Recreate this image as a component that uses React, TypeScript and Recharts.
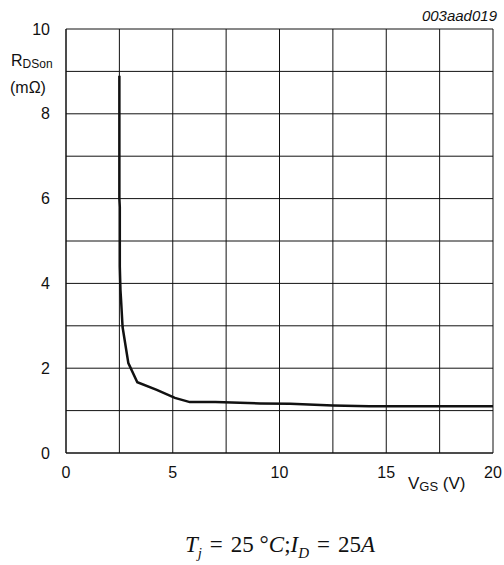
import { LineChart, Line, XAxis, YAxis, CartesianGrid } from 'recharts';

const vgs = [2.5, 2.5, 2.52, 2.52, 2.55, 2.58, 2.65, 2.92, 3.34, 4.25, 5.1, 5.8, 7, 9.1, 10.5, 12.5, 14.2, 17, 20];
const rdson = [8.9, 6.0, 5.8, 4.4, 3.85, 3.6, 2.97, 2.12, 1.67, 1.49, 1.3, 1.2, 1.2, 1.17, 1.16, 1.12, 1.1, 1.1, 1.1];

const xTicks = [0, 2.5, 5, 7.5, 10, 12.5, 15, 17.5, 20];
const yTicks = [0, 1, 2, 3, 4, 5, 6, 7, 8, 9, 10];

const data = vgs.map((v, i) => ({ vgs: v, rdson: rdson[i] }));

const font = 'Liberation Sans, Arial, sans-serif';
const sp = { margin: '0 8px' };

export default function App() {
  return (
    <div style={{ position: 'absolute', left: 0, top: 0, width: 504, height: 565, background: '#fff' }}>
      <LineChart width={504} height={565} data={data} margin={{ top: 29, right: 11, left: 0, bottom: 82 }}>
        <CartesianGrid stroke="#111" strokeWidth={1} />
        <XAxis
          dataKey="vgs"
          type="number"
          domain={[0, 20]}
          ticks={xTicks}
          interval={0}
          height={30}
          axisLine={{ stroke: '#111' }}
          tickLine={false}
          tickSize={0}
          tick={{ fill: '#111', fontSize: 16, fontFamily: font }}
          tickFormatter={(v: number) => (v % 5 === 0 ? String(v) : '')}
          tickMargin={14}
        />
        <YAxis
          dataKey="rdson"
          type="number"
          domain={[0, 10]}
          ticks={yTicks}
          interval={0}
          width={66}
          axisLine={{ stroke: '#111' }}
          tickLine={false}
          tickSize={0}
          tick={{ fill: '#111', fontSize: 16, fontFamily: font }}
          tickFormatter={(v: number) => (v % 2 === 0 ? String(v) : '')}
          tickMargin={16}
        />
        <Line dataKey="rdson" type="linear" stroke="#111" strokeWidth={2.5} dot={false} isAnimationActive={false} />
      </LineChart>
      <div style={{ position: 'absolute', right: 7, top: 7, fontFamily: font, fontSize: 15, fontStyle: 'italic', color: '#111' }}>003aad019</div>
      <div style={{ position: 'absolute', left: 11, top: 52, fontFamily: font, fontSize: 16, color: '#111' }}>
        R<sub style={{ fontSize: 12, verticalAlign: '-2px' }}>DSon</sub>
      </div>
      <div style={{ position: 'absolute', left: 10, top: 79, fontFamily: font, fontSize: 16, color: '#111' }}>(mΩ)</div>
      <div style={{ position: 'absolute', left: 408, top: 474, fontFamily: font, fontSize: 17, color: '#111' }}>
        V<sub style={{ fontSize: 13, verticalAlign: '-2px' }}>GS</sub> (V)
      </div>
      <div style={{ position: 'absolute', left: 28, width: 504, top: 532, textAlign: 'center', fontFamily: 'Liberation Serif, Times New Roman, serif', fontSize: 23, color: '#111', whiteSpace: 'nowrap' }}>
        <i>T</i><sub style={{ fontSize: 15 }}><i>j</i></sub><span style={sp}>=</span>25 °<i>C</i>;<i>I</i><sub style={{ fontSize: 15 }}><i>D</i></sub><span style={sp}>=</span>25<i>A</i>
      </div>
    </div>
  );
}
